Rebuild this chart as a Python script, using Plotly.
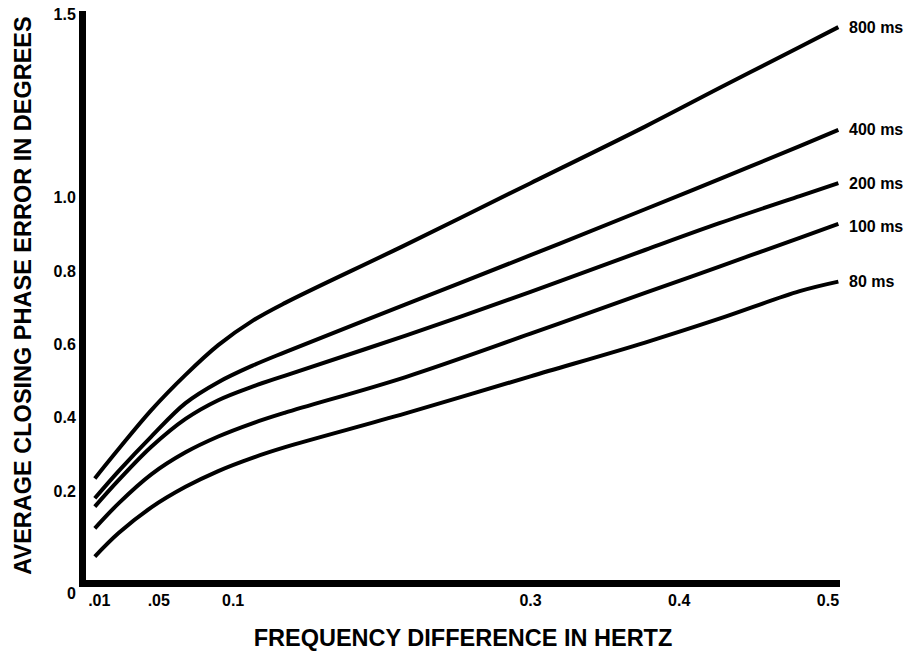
import plotly.graph_objects as go

# Frequency difference (Hz) at which the curves were read
freq = [0.007, 0.023, 0.045, 0.068, 0.09, 0.113, 0.135, 0.216, 0.30, 0.377, 0.427, 0.481, 0.507]

# Average closing phase error (degrees) per breaker closing time
err_800 = [0.235, 0.315, 0.421, 0.517, 0.598, 0.664, 0.713, 0.871, 1.039, 1.193, 1.298, 1.410, 1.464]
err_400 = [0.181, 0.255, 0.349, 0.440, 0.497, 0.542, 0.579, 0.709, 0.843, 0.968, 1.050, 1.140, 1.184]
err_200 = [0.158, 0.230, 0.321, 0.397, 0.448, 0.485, 0.515, 0.624, 0.743, 0.857, 0.930, 1.004, 1.039]
err_100 = [0.099, 0.167, 0.246, 0.306, 0.349, 0.385, 0.414, 0.511, 0.629, 0.740, 0.812, 0.890, 0.928]
err_80 = [0.022, 0.086, 0.156, 0.212, 0.255, 0.291, 0.320, 0.412, 0.513, 0.605, 0.670, 0.745, 0.771]

series_names = ["800 ms", "400 ms", "200 ms", "100 ms", "80 ms"]
series_values = [err_800, err_400, err_200, err_100, err_80]
label_yshift = [0, 0, 0, -3, 0]

x_tick_vals = [0.01, 0.05, 0.1, 0.3, 0.4, 0.5]
x_tick_text = [".01", ".05", "0.1", "0.3", "0.4", "0.5"]
y_tick_vals = [0.2, 0.4, 0.6, 0.8, 1.0, 1.5]
y_tick_text = ["0.2", "0.4", "0.6", "0.8", "1.0", "1.5"]

FONT = "Liberation Sans, Arial, Helvetica, sans-serif"

fig = go.Figure()
for name, vals, ys in zip(series_names, series_values, label_yshift):
    fig.add_trace(go.Scatter(
        x=freq, y=vals, mode="lines", name=name,
        line=dict(color="black", width=4, shape="spline", smoothing=1.0),
        showlegend=False, hoverinfo="skip",
    ))
    fig.add_annotation(
        x=freq[-1], y=vals[-1], xref="x", yref="y",
        text=name, showarrow=False, xanchor="left", yanchor="middle",
        xshift=9, yshift=ys,
        font=dict(family=FONT, size=16, color="black", weight="bold"),
    )

# origin label
fig.add_annotation(
    x=-0.0186, y=-0.0246, xref="paper", yref="paper", text="0",
    showarrow=False, xanchor="center", yanchor="middle",
    font=dict(family=FONT, size=16, color="black", weight="bold"),
)

fig.update_layout(
    width=911, height=651,
    margin=dict(l=86, r=71, t=11, b=71),
    paper_bgcolor="white", plot_bgcolor="white",
    font=dict(family=FONT, color="black"),
    xaxis=dict(
        range=[0.00108, 0.5081], automargin=False,
        showline=True, linewidth=7, linecolor="black",
        showgrid=False, zeroline=False, ticks="",
        tickmode="array", tickvals=x_tick_vals, ticktext=x_tick_text,
        tickfont=dict(family=FONT, size=16, color="black", weight="bold"),
        title=dict(text="FREQUENCY DIFFERENCE IN HERTZ", standoff=24,
                   font=dict(family=FONT, size=23.5, color="black", weight="bold")),
    ),
    yaxis=dict(
        range=[-0.0417, 1.5079], automargin=False,
        showline=True, linewidth=7, linecolor="black",
        showgrid=False, zeroline=False, ticks="",
        tickmode="array", tickvals=y_tick_vals, ticktext=y_tick_text,
        tickfont=dict(family=FONT, size=16, color="black", weight="bold"),
        title=dict(text="AVERAGE CLOSING PHASE ERROR IN DEGREES", standoff=18,
                   font=dict(family=FONT, size=23.5, color="black", weight="bold")),
    ),
)

fig.write_html(
    "out.html",
    config={"displayModeBar": False},
    post_script="document.body.style.margin='0';document.body.style.overflow='hidden';",
)
